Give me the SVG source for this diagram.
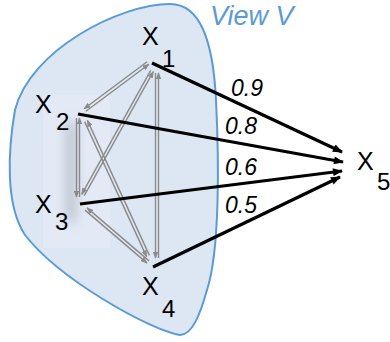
<svg xmlns="http://www.w3.org/2000/svg" width="390" height="342" viewBox="0 0 390 342">
<defs>
<style>
.lbl{font-family:"Liberation Sans",Arial,sans-serif;fill:#000}
.x{font-size:25px}
.sub{font-size:24px}
.w{font-family:"Liberation Sans",Arial,sans-serif;font-style:italic;font-size:23px;fill:#000}
.g{stroke:#8a8a8a;stroke-width:1.4;fill:none;marker-end:url(#ga)}
.b{stroke:#000;stroke-width:3.2;fill:none;marker-end:url(#ba)}
</style>
<marker id="ga" viewBox="0 0 10 8" refX="9" refY="4" markerWidth="7" markerHeight="5.6" markerUnits="userSpaceOnUse" orient="auto">
<path d="M0,0 L10,4 L0,8 Z" fill="#8a8a8a"/>
</marker>
<marker id="ba" viewBox="0 0 10 8" refX="9" refY="4" markerWidth="12" markerHeight="8" markerUnits="userSpaceOnUse" orient="auto">
<path d="M0,0 L10,4 L0,8 Z" fill="#000"/>
</marker>
<filter id="blur" x="-1" y="-1" width="3" height="3"><feGaussianBlur stdDeviation="6"/></filter>
</defs>
<g id="view">
<path d="M170,4 C200,4 213,40 216,100 C219,160 220,250 207,290 C200,315 192,335 180,335 C150,330 60,280 25,235 C5,205 8,150 15,110 C30,50 120,4 170,4 Z" fill="#dde7f3" stroke="#5b9bd5" stroke-width="2"/>
<rect x="43" y="95" width="67" height="153" fill="#e3eaf5"/>
<rect x="66" y="122" width="10" height="100" fill="#9aa0aa" opacity="0.55" filter="url(#blur)"/>
<text x="210" y="25" font-family="'Liberation Sans',Arial,sans-serif" font-style="italic" font-size="27" fill="#5b9bd5">View V</text>
</g>
<g id="edges">
<line class="g" x1="147.1" y1="61.8" x2="84.1" y2="108.8"/>
<line class="g" x1="85.9" y1="111.2" x2="148.9" y2="64.2"/>
<line class="g" x1="150.7" y1="70.3" x2="81.7" y2="194.3"/>
<line class="g" x1="84.3" y1="195.7" x2="153.3" y2="71.7"/>
<line class="g" x1="155.5" y1="73" x2="155.5" y2="258"/>
<line class="g" x1="158.5" y1="258" x2="158.5" y2="73"/>
<line class="g" x1="76.5" y1="118" x2="76.5" y2="197"/>
<line class="g" x1="79.5" y1="197" x2="79.5" y2="118"/>
<line class="g" x1="84.6" y1="121.6" x2="146.6" y2="256.6"/>
<line class="g" x1="149.4" y1="255.4" x2="87.4" y2="120.4"/>
<line class="g" x1="85.0" y1="210.1" x2="147.0" y2="263.1"/>
<line class="g" x1="149.0" y1="260.9" x2="87.0" y2="207.9"/>
<line class="b" x1="152" y1="63" x2="342" y2="152"/>
<line class="b" x1="78" y1="114" x2="343" y2="162"/>
<line class="b" x1="80" y1="204" x2="342" y2="171"/>
<line class="b" x1="153" y1="267" x2="340" y2="177"/>
<text class="w" x="231" y="96">0.9</text>
<text class="w" x="225" y="134">0.8</text>
<text class="w" x="225" y="175">0.6</text>
<text class="w" x="225" y="213">0.5</text>
</g>
<g id="x1"><text class="lbl x" x="142" y="45">X</text><text class="lbl sub" x="162" y="67">1</text></g>
<g id="x2"><text class="lbl x" x="35" y="113">X</text><text class="lbl sub" x="56" y="130">2</text></g>
<g id="x3"><text class="lbl x" x="35" y="213">X</text><text class="lbl sub" x="55" y="230">3</text></g>
<g id="x4"><text class="lbl x" x="142" y="295">X</text><text class="lbl sub" x="162" y="317">4</text></g>
<g id="x5"><text class="lbl x" x="357" y="170">X</text><text class="lbl sub" x="377" y="190">5</text></g>
</svg>
